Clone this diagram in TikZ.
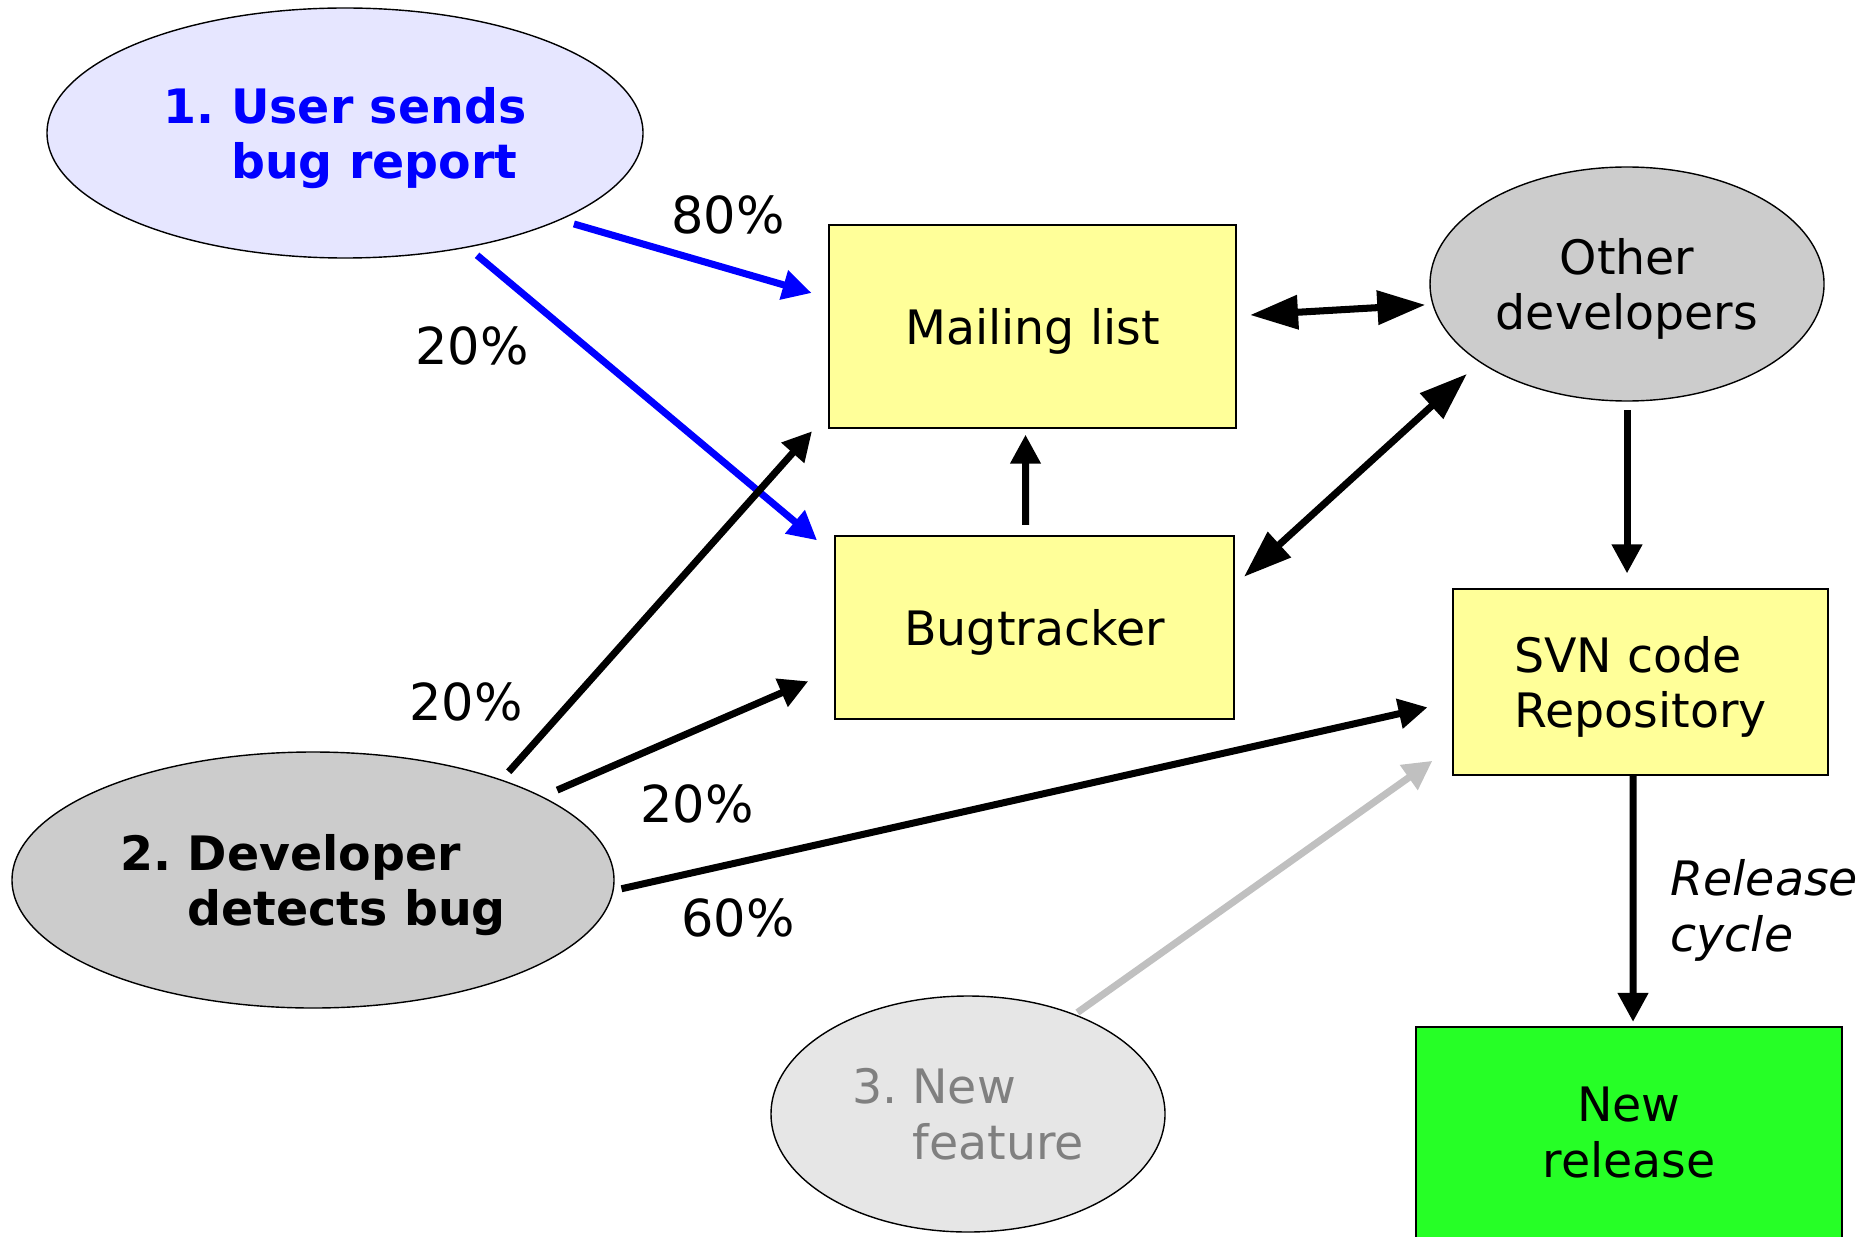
\documentclass[tikz,border=0pt]{standalone}
\usepackage{fontspec}
\setmainfont{DejaVu Sans}
\usepackage{xcolor}
\usepackage{tikz}
\usetikzlibrary{shapes.geometric, arrows.meta, positioning}

\definecolor{userfill}{HTML}{E6E6FF}
\definecolor{devfill}{HTML}{CCCCCC}
\definecolor{featfill}{HTML}{E6E6E6}
\definecolor{feattext}{HTML}{808080}
\definecolor{featline}{HTML}{C0C0C0}
\definecolor{boxfill}{HTML}{FFFF99}
\definecolor{relfill}{HTML}{26FF26}
\newcommand{\nodefont}{\fontsize{13.5}{15.9}\selectfont}

\begin{document}
\begin{tikzpicture}[
        bubble/.style={ellipse, draw, line width=0.4pt, inner sep=0pt, text depth=0pt, font=\nodefont},
        box/.style={rectangle, draw, line width=0.6pt, inner sep=0pt, text depth=0pt, font=\nodefont, fill=boxfill},
        pct/.style={font=\fontsize{14.5}{17}\selectfont},
        arr/.style={line width=2pt, -{Triangle[length=2.9mm,width=2.9mm]}},
        dbl/.style={line width=2pt, {Triangle[length=4.8mm,width=3.3mm]}-{Triangle[length=4.8mm,width=3.3mm]}}
    ]
        \useasboundingbox (0,0) rectangle (18.66,-12.36);

        \node (user) [bubble, fill=userfill, text=blue, font=\nodefont\bfseries, align=left, minimum width=5.96cm, minimum height=2.5cm] at (3.45,-1.33) {1.~User sends\\\hphantom{1.~}bug report};
        \node (dev) [bubble, fill=devfill, font=\nodefont\bfseries, align=left, minimum width=6.02cm, minimum height=2.56cm] at (3.13,-8.80) {2.~Developer\\\hphantom{2.~}detects bug};
        \node (feat) [bubble, fill=featfill, text=feattext, align=left, minimum width=3.94cm, minimum height=2.36cm] at (9.68,-11.14) {3.~New\\\hphantom{3.~}feature};
        \node (other) [bubble, fill=devfill, align=center, minimum width=3.94cm, minimum height=2.34cm] at (16.27,-2.84) {Other\\developers};

        \node (mail) [box, minimum width=4.07cm, minimum height=2.03cm] at (10.325,-3.265) {Mailing list};
        \node (bug) [box, minimum width=3.99cm, minimum height=1.83cm] at (10.345,-6.275) {Bugtracker};
        \node (svn) [box, align=left, minimum width=3.75cm, minimum height=1.86cm] at (16.405,-6.82) {SVN code\\Repository};
        \node (rel) [box, fill=relfill, align=center, minimum width=4.26cm, minimum height=2.11cm] at (16.29,-11.325) {New\\release};

        \node (p80) [pct] at (7.28,-2.15) {80\%};
        \node (p20a) [pct] at (4.72,-3.46) {20\%};
        \node (p20b) [pct] at (4.66,-7.02) {20\%};
        \node (p20c) [pct] at (6.97,-8.04) {20\%};
        \node (p60) [pct] at (7.38,-9.18) {60\%};

        \draw[arr, blue, shorten <=0.14cm, shorten >=0.17cm] (user.-22) -- (mail.172);
        \draw[arr, blue, shorten <=0.12cm, shorten >=0.22cm] (user.-43) -- (bug.160);
        \draw[arr, shorten <=0.105cm, shorten >=0.24cm] (dev.28.3) -- (mail.203);
        \draw[arr, shorten <=0.16cm, shorten >=0.28cm] (dev.20.4) -- (bug.192);
        \draw[arr, shorten <=0.08cm, shorten >=0.25cm] (dev.-2.4) -- (svn.186);
        \draw[arr, featline, shorten <=0.03cm, shorten >=0.24cm] (feat.43.6) -- (svn.199.5);
        \draw[arr, shorten <=0.1cm, shorten >=0.056cm] ([xshift=-0.09cm]bug.north) -- ([xshift=-0.07cm]mail.south);
        \draw[dbl, shorten <=0.13cm, shorten >=0.07cm] (mail.3.8) -- (other.186.7);
        \draw[dbl, shorten <=0.12cm, shorten >=0.17cm] (bug.12.8) -- (other.208.4);
        \draw[arr, shorten <=0.085cm, shorten >=0.145cm] (other.south) -- (other.south |- svn.north);
        \draw[arr, shorten >=0.04cm] ([xshift=-0.075cm]svn.south) -- ([xshift=0.04cm]rel.north)
            node (cycle) [pos=0.536, anchor=west, xshift=0.34cm, inner sep=0pt, align=left, font=\nodefont\itshape] {Release\\cycle};
    \end{tikzpicture}
\end{document}
